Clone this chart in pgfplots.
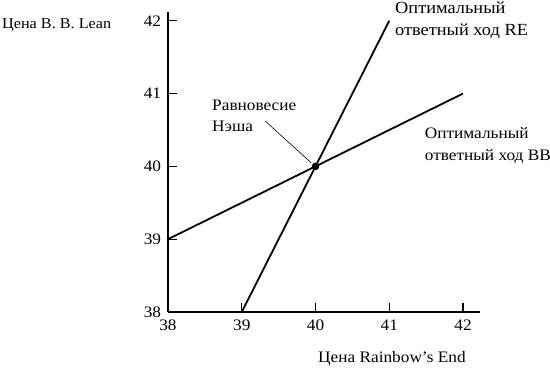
\documentclass[border=0pt]{standalone}
\usepackage{fontspec}
\setmainfont[FakeStretch=1.08]{Liberation Serif}
\usepackage{pgfplots}
\pgfplotsset{compat=1.18}
\begin{document}
\fontsize{17pt}{22pt}\selectfont
\begin{tikzpicture}
\path[use as bounding box] (-168pt,-57pt) rectangle (382pt,312pt);
\begin{axis}[
  scale only axis, width=312pt, height=300pt,
  xmin=38, xmax=42.23, ymin=38, ymax=42.12,
  axis lines=left, axis line style={-, line width=1.1pt, black},
  xtick={38,39,40,41,42}, ytick={38,39,40,41,42},
  tick align=inside, major tick length=9pt,
  tick style={line width=1.1pt, black},
  /pgf/number format/assume math mode=true,
  ticklabel style={font=\fontsize{16pt}{18pt}\selectfont},
  xticklabel style={yshift=-2pt},
  yticklabel style={xshift=-1pt},
  clip=false,
  every node/.append style={font=\fontsize{17pt}{22pt}\selectfont},
]
\addplot[line width=1.8pt, black] coordinates {(39,38) (41,42)};
\addplot[line width=1.8pt, black] coordinates {(38,39) (42,41)};
\addplot[only marks, mark=*, mark size=3.5pt, black] coordinates {(40,40)};
\draw[line width=0.6pt] (axis cs:39.32,40.62) -- (axis cs:39.94,40.05);
\node[anchor=base west, inner sep=0pt, font=\fontsize{16pt}{22pt}\selectfont] at (axis cs:38.597,40.774) {Равновесие};
\node[anchor=base west, inner sep=0pt, font=\fontsize{16pt}{22pt}\selectfont] at (axis cs:38.597,40.472) {Нэша};
\node[anchor=base west, inner sep=0pt] at (axis cs:41.078,42.106) {Оптимальный};
\node[anchor=base west, inner sep=0pt] at (axis cs:41.078,41.804) {ответный ход RE};
\node[anchor=base west, inner sep=0pt, font=\fontsize{16pt}{22pt}\selectfont] at (axis cs:41.48,40.389) {Оптимальный};
\node[anchor=base west, inner sep=0pt, font=\fontsize{16pt}{22pt}\selectfont] at (axis cs:41.48,40.087) {ответный ход BB};
\node[anchor=base west, inner sep=0pt, font=\fontsize{15pt}{18pt}\selectfont] at (axis cs:35.749,41.90) {Цена B. B. Lean};
\node[anchor=base west, inner sep=0pt, font=\fontsize{16pt}{18pt}\selectfont] at (axis cs:40.034,37.30) {Цена Rainbow’s End};
\end{axis}
\end{tikzpicture}
\end{document}
